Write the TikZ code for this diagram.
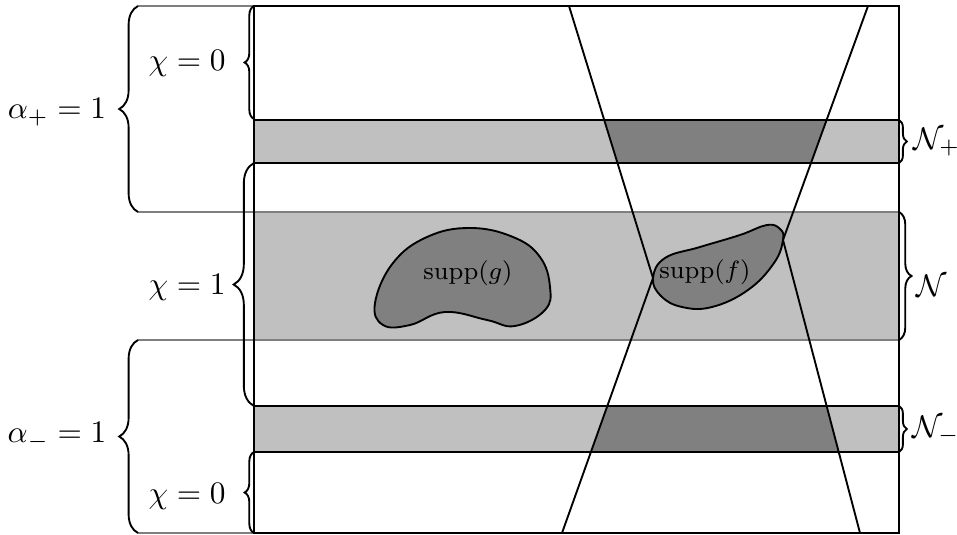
\documentclass[tikz,border=0pt]{standalone}
\usepackage{amsmath}
\usetikzlibrary{decorations.pathreplacing}
\definecolor{bandgray}{HTML}{C0C0C0}
\definecolor{darkgray}{HTML}{808080}
\definecolor{edgegray}{HTML}{7F7F7F}

\begin{document}
\begin{tikzpicture}[x=0.01123cm,y=-0.01123cm,
		brc/.style={decorate,decoration={brace,amplitude=#1},semithick},
		band/.style={draw=black,semithick}]
			\useasboundingbox (0,0) rectangle (957,535);

			\coordinate (P) at (653,278);
			\coordinate (Q) at (783,240);
			\coordinate (ul) at (569,6);
			\coordinate (ur) at (868,6);
			\coordinate (ll) at (562,533);
			\coordinate (lr) at (860,533);

			\fill[bandgray] (254,212) rectangle (899,340);
			\fill[bandgray] (254,120) rectangle (899,163);
			\fill[bandgray] (254,406) rectangle (899,452);
			\begin{scope}
				\clip (ul) -- (P) -- (Q) -- (ur) -- cycle;
				\fill[darkgray] (254,120) rectangle (899,163);
			\end{scope}
			\begin{scope}
				\clip (ll) -- (P) -- (Q) -- (lr) -- cycle;
				\fill[darkgray] (254,406) rectangle (899,452);
			\end{scope}
			\draw[band] (254,120) rectangle (899,163);
			\draw[band] (254,406) rectangle (899,452);

			\draw[edgegray,semithick] (138,6) -- (254,6);
			\draw[edgegray,semithick] (138,212) -- (899,212);
			\draw[edgegray,semithick] (138,340) -- (899,340);
			\draw[edgegray,semithick] (138,533) -- (254,533);
			\draw[semithick] (254,6) rectangle (899,533);

			\draw[semithick] (ul) -- (P) -- (ll);
			\draw[semithick] (ur) -- (Q) -- (lr);

			\draw[semithick,fill=darkgray] plot[smooth cycle,tension=0.7] coordinates {(375,303) (393,263) (427,237) (470,228) (513,237) (540,257) (550,287) (545,310) (515,326) (487,320) (445,312) (410,325) (383,325)};
			\draw[semithick,fill=darkgray] plot[smooth cycle,tension=0.7] coordinates {(653,278) (665,258) (700,247) (740,235) (767,225) (780,229) (783,240) (774,263) (748,290) (712,307) (682,307) (661,296)};
			\node (suppg) at (468,273) {\footnotesize$\mathrm{supp}(g)$};
			\node (suppf) at (705,272) {\footnotesize$\mathrm{supp}(f)$};

			\draw[brc=6pt] (138,212) -- (138,6);
			\draw[brc=6pt] (138,533) -- (138,340);
			\draw[brc=3pt] (254,119) -- (254,6);
			\draw[brc=6.5pt] (254,406) -- (254,163);
			\draw[brc=3pt] (254,533) -- (254,452);
			\draw[brc=2.5pt] (899,120) -- (899,163);
			\draw[brc=4pt] (899,212) -- (899,340);
			\draw[brc=2.5pt] (899,406) -- (899,452);

			\node (aplus) at (57,112) {$\alpha_+ = 1$};
			\node (aminus) at (57,436) {$\alpha_- = 1$};
			\node (chitop) at (187,63) {$\chi = 0$};
			\node (chimid) at (187,287) {$\chi = 1$};
			\node (chibot) at (187,496) {$\chi = 0$};
			\node[anchor=west,inner sep=1pt] (Nplus) at (910,142) {$\mathcal{N}_+$};
			\node[anchor=west,inner sep=1pt] (Nmid) at (913,286) {$\mathcal{N}$};
			\node[anchor=west,inner sep=1pt] (Nminus) at (909,430) {$\mathcal{N}_-$};
		\end{tikzpicture}
\end{document}
